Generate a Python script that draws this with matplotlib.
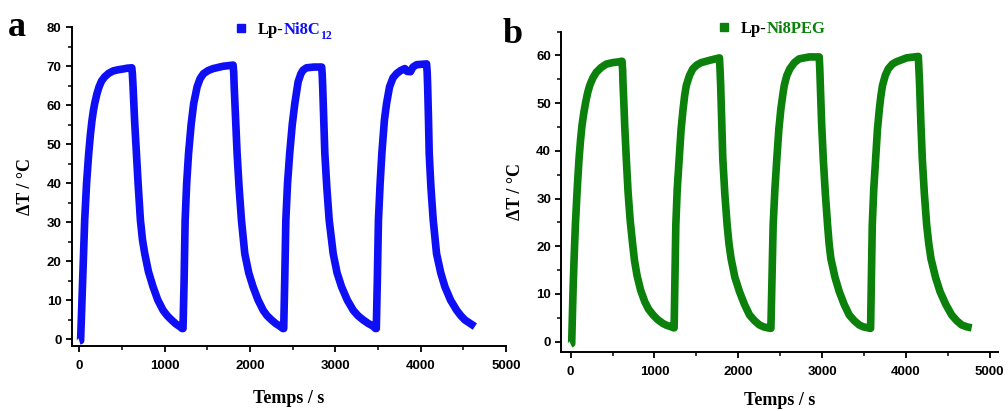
import matplotlib
matplotlib.use("Agg")
import matplotlib.pyplot as plt
import numpy as np
from matplotlib.lines import Line2D
from matplotlib.ticker import MultipleLocator

# ── Data (time in s, temperature rise in °C) ────────────────────────────────
# (a) Lp-Ni8C12, four laser on/off cycles
a_c1_t = [0, 15, 35, 50, 63, 85, 110, 130, 149, 165, 180, 205, 231, 260, 298, 345,
          396, 455, 513, 560, 615,
          622, 630, 648, 669, 690, 716, 740, 767, 810, 864, 920, 981, 1030, 1080,
          1130, 1177, 1205]
a_c1_v = [-0.5, -0.4, 12, 22, 30.5, 40, 47.6, 52.5, 56.2, 58.6, 60.4, 62.8, 64.7,
          66.2, 67.3, 68.2, 68.8, 69.1, 69.3, 69.5, 69.6,
          68, 64.7, 56, 47.6, 39.5, 30.5, 25.5, 21.9, 17.3, 13.4, 10, 7.4, 6, 4.9,
          3.9, 3.2, 2.7]
a_c2_t = [1215, 1228, 1240, 1258, 1280, 1310, 1340, 1380, 1415, 1455, 1510, 1568,
          1685, 1802,
          1809, 1815, 1832, 1849, 1872, 1900, 1939, 1985, 2036, 2095, 2154, 2200,
          2252, 2300, 2350, 2385]
a_c2_v = [2.7, 15, 30.5, 40, 47.6, 55, 60.4, 64.7, 66.8, 68.1, 68.9, 69.4,
          70.0, 70.3,
          68.5, 64.7, 56, 47.6, 39, 30.5, 21.9, 17, 13.4, 10, 7.4, 6,
          4.9, 4, 3.3, 2.7]
a_c3_t = [2395, 2407, 2420, 2440, 2465, 2495, 2525, 2564, 2595, 2622, 2662, 2750,
          2840,
          2846, 2852, 2865, 2877, 2900, 2928, 2975, 3020, 3073, 3140, 3209, 3265,
          3326, 3385, 3443, 3470]
a_c3_v = [2.7, 15, 30.5, 40, 47.6, 55, 60.4, 66, 68, 69.0, 69.6, 69.8,
          69.8,
          68, 64.7, 56, 47.6, 39, 30.5, 21.9, 17, 13.4, 10, 7.4, 6,
          4.9, 4, 3.3, 2.7]
a_c4_t = [3480, 3492, 3505, 3525, 3545, 3575, 3600, 3635, 3675, 3717, 3765, 3815,
          3840, 3880, 3910, 3952, 4069,
          4076, 4082, 4092, 4100, 4120, 4147, 4186, 4235, 4284, 4350, 4421, 4470,
          4518, 4580, 4635]
a_c4_v = [2.7, 15, 30.5, 40, 47.6, 56.2, 60.4, 64.7, 67, 68.1, 68.9, 69.4,
          68.7, 68.6, 69.8, 70.4, 70.6,
          68.5, 64.7, 56, 47.6, 39, 30.5, 21.9, 17, 13.4, 10, 7.4, 6,
          4.9, 4, 3.2]

# (b) Lp-Ni8PEG
b_c1_t = [0, 12, 28, 42, 56, 78, 100, 118, 135, 157, 179, 203, 227, 265, 307, 365,
          426, 500, 585, 613,
          620, 625, 635, 645, 665, 685, 710, 737, 762, 792, 835, 884, 930, 984,
          1040, 1103, 1150, 1203, 1230]
b_c1_v = [-0.5, -0.4, 10.5, 18, 24.4, 32, 38.4, 42.3, 45.3, 48, 50.2, 52.2, 53.7,
          55.3, 56.5, 57.5, 58.2, 58.5, 58.7, 58.8,
          57, 54, 50, 45.3, 38, 31.4, 25.5, 20.9, 17, 13.9, 10.8, 8.4, 6.8, 5.6,
          4.6, 3.8, 3.4, 3.1, 2.9]
b_c2_t = [1235, 1245, 1255, 1272, 1295, 1318, 1342, 1360, 1380, 1418, 1458, 1505,
          1557, 1660, 1776,
          1783, 1790, 1803, 1816, 1840, 1868, 1890, 1915, 1960, 2015, 2075, 2135,
          2195, 2254, 2305, 2354, 2385]
b_c2_v = [2.9, 13, 24.4, 32, 38.4, 44.5, 48.8, 51.5, 53.7, 55.8, 57.2, 58,
          58.5, 59.0, 59.5,
          57, 54, 46, 38.4, 31, 24.4, 20.5, 17.4, 13.5, 10.5, 7.8, 5.6,
          4.4, 3.5, 3.1, 2.9, 2.8]
b_c3_t = [2390, 2403, 2417, 2438, 2461, 2485, 2509, 2530, 2549, 2580, 2616, 2670,
          2728, 2850, 2967,
          2974, 2980, 2995, 3015, 3040, 3067, 3085, 3106, 3155, 3206, 3265, 3325,
          3385, 3445, 3495, 3545, 3575]
b_c3_v = [2.8, 13, 24.4, 32, 38.4, 44.5, 48.8, 51.5, 53.7, 55.8, 57.2, 58.5,
          59.3, 59.7, 59.7,
          57, 54, 46, 38.4, 31, 24.4, 20.5, 17.4, 13.5, 10.5, 7.8, 5.6,
          4.4, 3.5, 3.1, 2.9, 2.8]
b_c4_t = [3580, 3590, 3600, 3618, 3640, 3662, 3685, 3703, 3722, 3755, 3791, 3840,
          3891, 4010, 4150,
          4157, 4165, 4180, 4197, 4222, 4250, 4275, 4301, 4355, 4409, 4478, 4548,
          4608, 4668, 4730, 4787]
b_c4_v = [2.8, 13, 24.4, 32, 38.4, 44.5, 48.8, 51.5, 53.7, 55.8, 57.2, 58.2,
          58.7, 59.5, 59.8,
          57, 54, 46, 38.4, 31, 24.4, 20.5, 17.4, 13.5, 10.5, 7.8, 5.6,
          4.4, 3.5, 3.1, 2.9]

BLUE = "#0f0ff5"
GREEN = "#0b800b"
LW = 5.5

TICK_FONT = {"family": "Liberation Sans", "weight": "bold", "size": 9.5}
LABEL_FONT = {"family": "Liberation Serif", "weight": "bold", "size": 13}
LEG_FONT = {"family": "Liberation Serif", "weight": "bold", "size": 12}


def style_axis(ax, xlim, ylim, ymajor, xpad):
    ax.set_xlim(*xlim)
    ax.set_ylim(*ylim)
    ax.spines["top"].set_visible(False)
    ax.spines["right"].set_visible(False)
    for s in ("left", "bottom"):
        ax.spines[s].set_linewidth(1.4)
    ax.xaxis.set_major_locator(MultipleLocator(1000))
    ax.xaxis.set_minor_locator(MultipleLocator(500))
    ax.yaxis.set_major_locator(MultipleLocator(ymajor))
    ax.yaxis.set_minor_locator(MultipleLocator(ymajor / 2))
    ax.tick_params(which="major", direction="out", length=4.5, width=1.3, pad=3)
    ax.tick_params(which="minor", direction="out", length=3, width=1.1)
    ax.tick_params(axis="x", which="major", pad=6)
    for lab in ax.get_xticklabels() + ax.get_yticklabels():
        lab.set_fontfamily(TICK_FONT["family"])
        lab.set_fontweight(TICK_FONT["weight"])
        lab.set_fontsize(TICK_FONT["size"])
    ax.set_xlabel("Temps / s", fontdict=LABEL_FONT, labelpad=xpad)
    ax.set_ylabel("ΔT / °C", fontdict=LABEL_FONT, labelpad=9)


def add_legend(fig, ax, color, anchor, name, sub=None):
    h = Line2D([], [], marker="s", ls="none", color=color, markersize=6)
    leg = ax.legend([h], ["Lp-"], loc="center left", bbox_to_anchor=anchor,
                    bbox_transform=fig.transFigure, frameon=False, borderpad=0,
                    borderaxespad=0, handlelength=0.6, handletextpad=0.7,
                    prop=LEG_FONT)
    txt = leg.get_texts()[0]
    # drawn after the legend (higher zorder) so the legend text is already placed
    a1 = ax.annotate(name, xy=(1, 0), xycoords=txt, va="bottom", ha="left",
                     color=color, annotation_clip=False, zorder=10, **LEG_FONT)
    if sub:
        ax.annotate(sub, xy=(1, 0), xycoords=a1, xytext=(0.2, -3),
                    textcoords="offset points", va="bottom", ha="left",
                    color=color, fontsize=8.5, fontweight="bold",
                    family="Liberation Serif", annotation_clip=False, zorder=11)


def join(*pairs):
    t = np.concatenate([p[0] for p in pairs])
    v = np.concatenate([p[1] for p in pairs])
    return t, v


fig = plt.figure(figsize=(10.08, 4.11), dpi=100)
fig.patch.set_facecolor("white")

ax_a = fig.add_axes([0.0714, 0.159, 0.4306, 0.7746])
t_a, v_a = join((a_c1_t, a_c1_v), (a_c2_t, a_c2_v), (a_c3_t, a_c3_v), (a_c4_t, a_c4_v))
ax_a.plot(t_a, v_a, color=BLUE, lw=LW, solid_joinstyle="round", solid_capstyle="butt")
style_axis(ax_a, (-86, 5000), (-1.7, 80), 10, 13)

ax_b = fig.add_axes([0.557, 0.1443, 0.433, 0.7787])
t_b, v_b = join((b_c1_t, b_c1_v), (b_c2_t, b_c2_v), (b_c3_t, b_c3_v), (b_c4_t, b_c4_v))
ax_b.plot(t_b, v_b, color=GREEN, lw=LW, solid_joinstyle="round", solid_capstyle="butt")
style_axis(ax_b, (-110, 5100), (-2.1, 65), 10, 10)

add_legend(fig, ax_a, BLUE, (236 / 1008, 1 - 30 / 411), "Ni8C", "12")
add_legend(fig, ax_b, GREEN, (719 / 1008, 1 - 29 / 411), "Ni8PEG")

fig.text(8 / 1008, 1 - 36 / 411, "a", family="Liberation Serif", weight="bold",
         fontsize=26, va="baseline")
fig.text(503 / 1008, 1 - 43 / 411, "b", family="Liberation Serif", weight="bold",
         fontsize=26, va="baseline")

fig.savefig("out.png", dpi=100, facecolor="white")
